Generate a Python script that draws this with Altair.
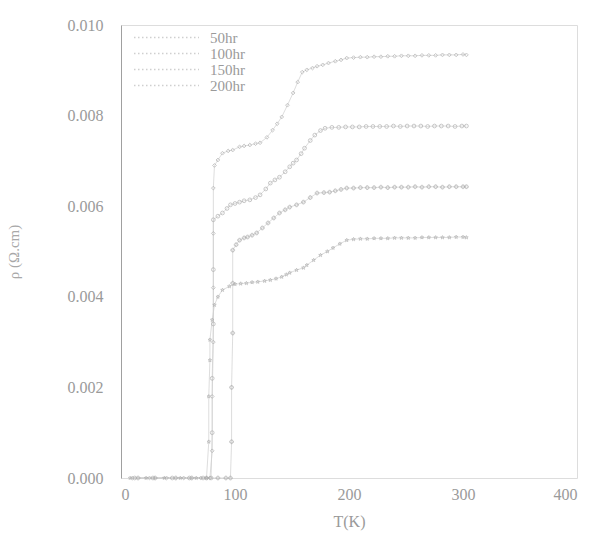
import altair as alt
import pandas as pd

series_names = ["50hr", "100hr", "150hr", "200hr"]

t_50 = [10, 25, 40, 55, 70, 78, 80, 80, 81, 81, 81, 81, 82, 85, 89, 94, 98, 104, 108, 113, 118, 122,
        128, 133, 137, 141, 146, 151, 155, 159, 163, 168, 172, 177, 182, 188, 193, 198, 204, 210,
        216, 222, 228, 234, 240, 246, 252, 258, 264, 270, 276, 282, 288, 294, 300, 303]
rho_50 = [0, 0, 0, 0, 0, 0, 0.0006, 0.0018, 0.0030, 0.0042, 0.0054, 0.0064, 0.0069, 0.00702, 0.00717,
          0.00722, 0.00724, 0.00731, 0.00733, 0.00735, 0.00738, 0.00740, 0.00752, 0.00768, 0.00782,
          0.00797, 0.00823, 0.00850, 0.00874, 0.00896, 0.00901, 0.00905, 0.00909, 0.00912, 0.00916,
          0.00920, 0.00923, 0.00927, 0.00928, 0.00929, 0.00929, 0.00930, 0.00930, 0.00931, 0.00931,
          0.00932, 0.00932, 0.00932, 0.00933, 0.00933, 0.00933, 0.00934, 0.00934, 0.00934, 0.00935,
          0.00934]

t_100 = [12, 28, 45, 60, 72, 79, 80, 80, 81, 81, 81, 85, 89, 93, 96, 100, 104, 108, 113, 118, 122,
         127, 131, 135, 139, 144, 148, 151, 154, 158, 161, 166, 170, 175, 179, 185, 191, 197, 203,
         209, 215, 221, 227, 233, 239, 245, 251, 257, 263, 269, 275, 281, 287, 293, 299, 303]
rho_100 = [0, 0, 0, 0, 0, 0, 0.0010, 0.0022, 0.0034, 0.0046, 0.0057, 0.00578, 0.00585, 0.00595,
           0.00603, 0.00606, 0.00609, 0.00612, 0.00614, 0.00619, 0.00625, 0.00638, 0.00651, 0.00658,
           0.00664, 0.00676, 0.00687, 0.00695, 0.00702, 0.00716, 0.00728, 0.00745, 0.00757, 0.00767,
           0.00772, 0.00774, 0.00774, 0.00775, 0.00775, 0.00775, 0.00776, 0.00776, 0.00776, 0.00776,
           0.00777, 0.00776, 0.00777, 0.00777, 0.00777, 0.00776, 0.00777, 0.00777, 0.00777, 0.00776,
           0.00777, 0.00777]

t_150 = [15, 30, 48, 62, 75, 85, 92, 96, 97, 97, 98, 98, 98, 101, 104, 108, 111, 115, 119, 124, 129,
         134, 139, 144, 148, 154, 160, 166, 172, 178, 183, 188, 193, 198, 204, 210, 216, 222, 228,
         234, 240, 246, 252, 258, 264, 270, 276, 282, 288, 294, 300, 303]
rho_150 = [0, 0, 0, 0, 0, 0, 0, 0, 0.0008, 0.0020, 0.0032, 0.0043, 0.00503, 0.00515, 0.00525,
           0.00530, 0.00532, 0.00536, 0.00541, 0.00552, 0.00563, 0.00574, 0.00585, 0.00592, 0.00598,
           0.00603, 0.00609, 0.00619, 0.00629, 0.00630, 0.00631, 0.00634, 0.00637, 0.00640, 0.00640,
           0.00641, 0.00641, 0.00641, 0.00642, 0.00641, 0.00642, 0.00642, 0.00642, 0.00643, 0.00642,
           0.00643, 0.00643, 0.00642, 0.00643, 0.00643, 0.00643, 0.00643]

t_200 = [8, 22, 38, 52, 66, 75, 77, 77, 78, 78, 80, 82, 85, 89, 95, 100, 105, 110, 115, 120, 126,
         131, 136, 141, 145, 148, 154, 160, 163, 169, 175, 181, 186, 192, 198, 204, 210, 216, 222,
         228, 234, 240, 246, 252, 258, 264, 270, 276, 282, 288, 294, 300, 303]
rho_200 = [0, 0, 0, 0, 0, 0, 0.0008, 0.0018, 0.0026, 0.00305, 0.00349, 0.00382, 0.00400, 0.00415,
           0.00423, 0.00428, 0.00429, 0.00430, 0.00432, 0.00433, 0.00435, 0.00437, 0.00440, 0.00444,
           0.00449, 0.00453, 0.00459, 0.00464, 0.00470, 0.00481, 0.00492, 0.00500, 0.00508, 0.00517,
           0.00525, 0.00527, 0.00528, 0.00528, 0.00529, 0.00529, 0.00529, 0.00530, 0.00530, 0.00530,
           0.00530, 0.00531, 0.00531, 0.00531, 0.00531, 0.00531, 0.00532, 0.00532, 0.00531]

x_ticks = [0, 100, 200, 300, 400]
y_ticks = [0.000, 0.002, 0.004, 0.006, 0.008, 0.010]

star = ("M0,-1L0.24,-0.31L0.95,-0.31L0.38,0.12L0.59,0.81L0,0.4L-0.59,0.81"
        "L-0.38,0.12L-0.95,-0.31L-0.24,-0.31Z")
shapes = ["diamond", "circle", "cross", star]

rows = []
for name, ts, rs in zip(series_names, [t_50, t_100, t_150, t_200], [rho_50, rho_100, rho_150, rho_200]):
    for i, (t, r) in enumerate(zip(ts, rs)):
        rows.append({"series": name, "T": t, "rho": r, "idx": i})
df = pd.DataFrame(rows)

FONT = "Liberation Serif"
GREY = "#9a9a9a"

x_enc = alt.X("T:Q", scale=alt.Scale(domain=[0, 400], nice=False),
              axis=alt.Axis(values=x_ticks, domain=False, ticks=False, grid=False,
                            labelFont=FONT, labelFontSize=16, labelColor=GREY, labelPadding=8,
                            title="T(K)", titleFont=FONT, titleFontSize=16, titleFontWeight="normal",
                            titleColor=GREY, titlePadding=11))
y_enc = alt.Y("rho:Q", scale=alt.Scale(domain=[0, 0.010], nice=False),
              axis=alt.Axis(values=y_ticks, format=".3f", domain=True, domainColor="#a0a0a0",
                            ticks=False, grid=False,
                            labelFont=FONT, labelFontSize=16, labelColor=GREY, labelPadding=18,
                            title="ρ (Ω.cm)", titleFont=FONT, titleFontSize=15,
                            titleFontWeight="normal", titleColor="#a8a8a8", titlePadding=46))

lines = alt.Chart(df).mark_line(strokeWidth=0.7).encode(
    x=x_enc, y=y_enc, order="idx:Q",
    color=alt.Color("series:N",
                    scale=alt.Scale(domain=series_names, range=["#cfcfcf"] * 4),
                    legend=alt.Legend(orient="none", legendX=38, legendY=5, title=None,
                                      symbolType="M-5,0L5,0", symbolSize=169, symbolStrokeWidth=1.6,
                                      symbolDash=[1.5, 2.5], symbolStrokeColor="#adadad",
                                      labelFont=FONT, labelFontSize=15,
                                      labelColor=GREY, rowPadding=0, labelOffset=36)),
)

layers = [lines]
for name, shp in zip(series_names, shapes):
    layers.append(
        alt.Chart(df).transform_filter(alt.datum.series == name)
        .mark_point(filled=False, size=14, strokeWidth=0.9, color="#a8a8a8", shape=shp)
        .encode(x=x_enc, y=y_enc)
    )

chart = alt.layer(*layers).properties(
    width=456, height=453,
    autosize=alt.AutoSizeParams(type="none"),
    padding={"left": 121, "top": 25, "right": 15, "bottom": 81},
).configure_view(stroke="#d6d6d6", strokeWidth=1).configure(background="white")

chart.save("out.html", embed_options={"renderer": "svg", "actions": False})
